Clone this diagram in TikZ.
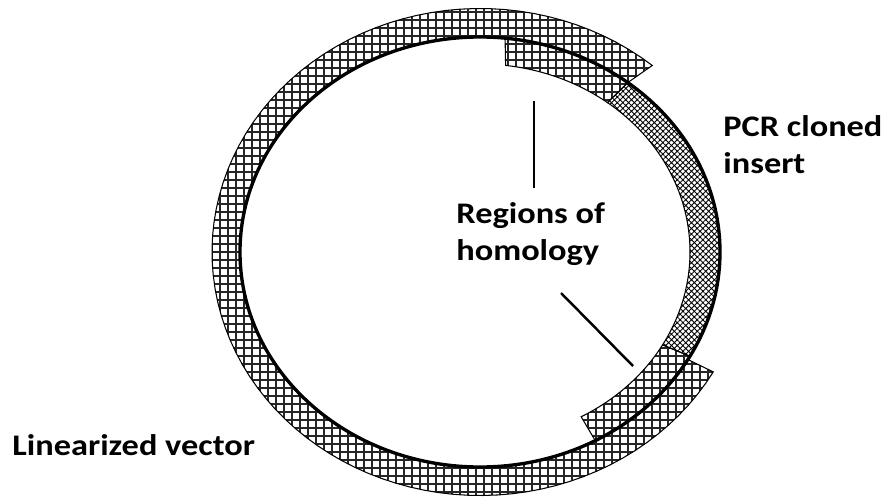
\documentclass[tikz,border=0pt]{standalone}
\usepackage{fontspec}
\setmainfont{Carlito}
\usetikzlibrary{calc, positioning, patterns.meta}

% faixas (centro 480,252; elipse grossa 240x215)
\newcommand{\faixaVetor}{plot[domain=29.5:310, samples=90] ({480+268*cos(\x)}, {252+243.5*sin(\x)})
    -- plot[domain=308:30, samples=90] ({480+240*cos(\x)}, {252+215*sin(\x)}) -- cycle}
\newcommand{\pontaCima}{plot[domain=-84:-52, samples=30] ({480+240*cos(\x)}, {252+215*sin(\x)})
    -- plot[domain=-52.6:-83, samples=30] ({480+210*cos(\x)}, {252+188*sin(\x)}) -- cycle}
\newcommand{\pontaBaixo}{plot[domain=29:61.3, samples=30] ({480+240*cos(\x)}, {252+215*sin(\x)})
    -- plot[domain=61.2:29.6, samples=30] ({480+210*cos(\x)}, {252+188*sin(\x)}) -- cycle}
\newcommand{\meioInserto}{plot[domain=-52:29, samples=60] ({480+240*cos(\x)}, {252+215*sin(\x)})
    -- plot[domain=29.6:-52.6, samples=60] ({480+210*cos(\x)}, {252+188*sin(\x)}) -- cycle}
\newcommand{\grade}{%
    \foreach \gx in {204,212,...,756} \draw[fio] (\gx,0) -- (\gx,497);
    \foreach \gy in {4,12,...,500} \draw[fio] (200,\gy) -- (760,\gy);}

\begin{document}
\begin{tikzpicture}[
    x=0.02cm, y=-0.02cm,
    fio/.style={line width=0.65pt, black!85},
    losango/.style={pattern={Hatch[angle=45, distance=2.3pt, line width=0.5pt]}},
    borda/.style={draw, line width=0.6pt},
    haste/.style={line width=1.4pt},
    rotulo/.style={font=\bfseries\fontsize{17}{21}\selectfont, xscale=1.15, inner sep=0pt, align=left}
]
    \useasboundingbox (0,0) rectangle (888,497);

    % 1. Vetor linearizado (faixa externa)
    \begin{scope}
        \clip \faixaVetor;
        \grade
    \end{scope}
    \draw[borda] \faixaVetor;

    % 2. Inserto do PCR (faixa interna), com as pontas homologas
    \begin{scope}
        \clip \pontaCima;
        \grade
    \end{scope}
    \begin{scope}
        \clip \pontaBaixo;
        \grade
    \end{scope}
    \draw[borda] \pontaCima;
    \draw[borda] \pontaBaixo;
    \draw[borda, losango] \meioInserto;

    % 3. Contorno grosso
    \draw[line width=1.9pt] (480,252) ellipse [x radius=240, y radius=215];

    % 4. Rotulos
    \node[rotulo, anchor=north west] (insert) at (723,115) {PCR cloned\\insert};
    \node[rotulo, anchor=north west] (homol) at (456,202) {Regions of\\homology};
    \node[rotulo, anchor=north west] (vector) at (12,434) {Linearized vector};

    % 5. Hastes ate as regioes de homologia
    \coordinate (hA1) at (534,188);
    \coordinate (hA2) at (534,101);
    \coordinate (hB1) at (561,293);
    \coordinate (hB2) at (633,366);
    \draw[haste] (hA1) -- (hA2);
    \draw[haste] (hB1) -- (hB2);

\end{tikzpicture}
\end{document}
